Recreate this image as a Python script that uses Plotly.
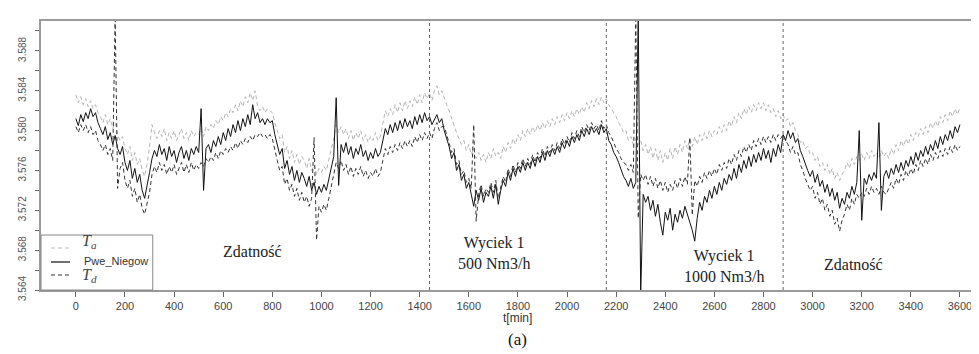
import plotly.graph_objects as go

# time axis [min], sampled every 10 min
t = list(range(0, 3601, 10))

# Pwe_Niegow (measured) values
pwe = [
 3.5812,3.5805,3.5816,3.5809,3.5818,3.5812,3.5822,3.5814,3.5818,3.5808,
 3.5802,3.5796,3.5804,3.5791,3.5798,3.5786,3.5795,3.5782,3.5776,3.5784,
 3.5768,3.5760,3.5770,3.5752,3.5762,3.5748,3.5756,3.5740,3.5732,3.5744,
 3.5758,3.5772,3.5780,3.5774,3.5786,3.5776,3.5782,3.5770,3.5784,3.5774,
 3.5780,3.5768,3.5778,3.5784,3.5772,3.5780,3.5770,3.5782,3.5776,3.5784,
 3.5778,3.5822,3.5740,3.5782,3.5786,3.5778,3.5790,3.5784,3.5794,3.5786,
 3.5798,3.5790,3.5802,3.5794,3.5806,3.5798,3.5810,3.5800,3.5812,3.5804,
 3.5816,3.5806,3.5826,3.5812,3.5818,3.5808,3.5812,3.5806,3.5812,3.5808,
 3.5810,3.5796,3.5786,3.5776,3.5782,3.5762,3.5770,3.5756,3.5764,3.5750,
 3.5760,3.5748,3.5758,3.5752,3.5744,3.5754,3.5740,3.5748,3.5736,3.5744,
 3.5738,3.5746,3.5740,3.5752,3.5762,3.5774,3.5833,3.5745,3.5786,3.5778,
 3.5788,3.5776,3.5784,3.5772,3.5782,3.5776,3.5786,3.5774,3.5780,3.5770,
 3.5778,3.5772,3.5782,3.5774,3.5778,3.5790,3.5802,3.5796,3.5806,3.5798,
 3.5808,3.5800,3.5810,3.5802,3.5812,3.5804,3.5810,3.5802,3.5814,3.5806,
 3.5816,3.5808,3.5818,3.5810,3.5814,3.5806,3.5812,3.5816,3.5808,3.5812,
 3.5800,3.5792,3.5784,3.5772,3.5778,3.5760,3.5766,3.5750,3.5756,3.5742,
 3.5748,3.5736,3.5724,3.5740,3.5730,3.5742,3.5728,3.5738,3.5734,3.5744,
 3.5732,3.5746,3.5726,3.5740,3.5750,3.5744,3.5758,3.5750,3.5762,3.5754,
 3.5764,3.5758,3.5768,3.5760,3.5768,3.5762,3.5772,3.5764,3.5774,3.5768,
 3.5778,3.5770,3.5780,3.5774,3.5782,3.5776,3.5784,3.5778,3.5788,3.5782,
 3.5790,3.5784,3.5794,3.5788,3.5796,3.5790,3.5800,3.5794,3.5802,3.5796,
 3.5804,3.5798,3.5802,3.5796,3.5806,3.5798,3.5802,3.5790,3.5786,3.5778,
 3.5774,3.5768,3.5762,3.5754,3.5750,3.5744,3.5752,3.5742,3.5748,3.5915,
 3.5635,3.5736,3.5728,3.5734,3.5720,3.5730,3.5714,3.5726,3.5708,3.5695,
 3.5718,3.5710,3.5722,3.5700,3.5716,3.5708,3.5720,3.5712,3.5724,3.5716,
 3.5710,3.5700,3.5689,3.5712,3.5728,3.5720,3.5734,3.5728,3.5740,3.5732,
 3.5744,3.5736,3.5748,3.5740,3.5752,3.5746,3.5756,3.5750,3.5762,3.5752,
 3.5766,3.5758,3.5770,3.5762,3.5774,3.5764,3.5776,3.5768,3.5778,3.5770,
 3.5782,3.5772,3.5780,3.5768,3.5782,3.5774,3.5786,3.5778,3.5796,3.5790,
 3.5800,3.5792,3.5798,3.5788,3.5792,3.5780,3.5774,3.5766,3.5760,3.5754,
 3.5760,3.5748,3.5756,3.5744,3.5750,3.5738,3.5746,3.5734,3.5742,3.5730,
 3.5738,3.5722,3.5732,3.5726,3.5738,3.5732,3.5744,3.5736,3.5748,3.5800,
 3.5710,3.5752,3.5746,3.5756,3.5750,3.5758,3.5752,3.5808,3.5720,3.5754,
 3.5760,3.5752,3.5762,3.5756,3.5766,3.5758,3.5768,3.5760,3.5770,3.5764,
 3.5774,3.5766,3.5778,3.5770,3.5780,3.5774,3.5784,3.5776,3.5786,3.5780,
 3.5790,3.5782,3.5794,3.5786,3.5796,3.5790,3.5800,3.5792,3.5804,3.5798,
 3.5806,
]

# T_a (upper) values
ta = [
 3.5836,3.5828,3.5834,3.5826,3.5832,3.5824,3.5830,3.5822,3.5826,3.5818,
 3.5814,3.5808,3.5816,3.5806,3.5812,3.5802,3.5808,3.5796,3.5790,3.5794,
 3.5782,3.5776,3.5784,3.5770,3.5778,3.5766,3.5772,3.5760,3.5754,3.5766,
 3.5784,3.5806,3.5798,3.5792,3.5800,3.5794,3.5802,3.5790,3.5798,3.5792,
 3.5800,3.5790,3.5796,3.5802,3.5792,3.5798,3.5790,3.5800,3.5794,3.5798,
 3.5796,3.5802,3.5794,3.5804,3.5800,3.5806,3.5802,3.5810,3.5806,3.5814,
 3.5810,3.5818,3.5814,3.5822,3.5818,3.5826,3.5820,3.5830,3.5824,3.5834,
 3.5828,3.5838,3.5830,3.5840,3.5824,3.5820,3.5824,3.5818,3.5822,3.5820,
 3.5818,3.5808,3.5800,3.5792,3.5796,3.5778,3.5784,3.5772,3.5780,3.5768,
 3.5776,3.5766,3.5774,3.5770,3.5762,3.5772,3.5760,3.5766,3.5756,3.5762,
 3.5758,3.5764,3.5760,3.5770,3.5780,3.5792,3.5806,3.5798,3.5804,3.5796,
 3.5802,3.5792,3.5800,3.5790,3.5798,3.5792,3.5800,3.5790,3.5796,3.5788,
 3.5794,3.5790,3.5798,3.5790,3.5794,3.5806,3.5820,3.5814,3.5822,3.5816,
 3.5826,3.5818,3.5828,3.5820,3.5830,3.5822,3.5830,3.5824,3.5834,3.5826,
 3.5836,3.5828,3.5838,3.5832,3.5838,3.5830,3.5840,3.5845,3.5836,3.5840,
 3.5832,3.5826,3.5820,3.5812,3.5806,3.5798,3.5792,3.5786,3.5790,3.5780,
 3.5786,3.5776,3.5782,3.5772,3.5778,3.5770,3.5776,3.5768,3.5778,3.5772,
 3.5782,3.5774,3.5778,3.5772,3.5784,3.5778,3.5788,3.5782,3.5792,3.5786,
 3.5796,3.5790,3.5800,3.5794,3.5802,3.5796,3.5804,3.5798,3.5806,3.5800,
 3.5808,3.5802,3.5810,3.5804,3.5812,3.5806,3.5814,3.5808,3.5816,3.5810,
 3.5818,3.5812,3.5820,3.5814,3.5822,3.5816,3.5824,3.5818,3.5828,3.5822,
 3.5830,3.5824,3.5832,3.5826,3.5834,3.5828,3.5832,3.5826,3.5822,3.5818,
 3.5814,3.5808,3.5804,3.5798,3.5800,3.5790,3.5794,3.5786,3.5792,3.5786,
 3.5790,3.5780,3.5786,3.5776,3.5784,3.5772,3.5782,3.5770,3.5780,3.5768,
 3.5778,3.5770,3.5782,3.5772,3.5784,3.5776,3.5786,3.5778,3.5790,3.5782,
 3.5792,3.5784,3.5794,3.5786,3.5796,3.5790,3.5798,3.5792,3.5800,3.5794,
 3.5800,3.5796,3.5804,3.5798,3.5806,3.5800,3.5810,3.5804,3.5814,3.5808,
 3.5818,3.5812,3.5822,3.5816,3.5824,3.5818,3.5826,3.5820,3.5828,3.5822,
 3.5828,3.5820,3.5826,3.5818,3.5822,3.5814,3.5820,3.5812,3.5816,3.5810,
 3.5812,3.5804,3.5808,3.5800,3.5796,3.5788,3.5790,3.5782,3.5784,3.5776,
 3.5778,3.5770,3.5774,3.5764,3.5768,3.5760,3.5766,3.5756,3.5762,3.5752,
 3.5758,3.5750,3.5756,3.5760,3.5768,3.5762,3.5772,3.5766,3.5774,3.5770,
 3.5776,3.5770,3.5778,3.5772,3.5780,3.5774,3.5778,3.5772,3.5780,3.5774,
 3.5778,3.5772,3.5782,3.5776,3.5786,3.5780,3.5790,3.5784,3.5792,3.5786,
 3.5796,3.5790,3.5798,3.5794,3.5802,3.5796,3.5804,3.5798,3.5808,3.5802,
 3.5810,3.5804,3.5814,3.5808,3.5816,3.5810,3.5820,3.5814,3.5822,3.5816,
 3.5824,
]

# T_d (lower) values
td = [
 3.5804,3.5798,3.5806,3.5800,3.5806,3.5798,3.5804,3.5796,3.5800,3.5790,
 3.5786,3.5780,3.5786,3.5776,3.5782,3.5770,3.5915,3.5742,3.5762,3.5768,
 3.5750,3.5742,3.5750,3.5734,3.5742,3.5728,3.5736,3.5722,3.5716,3.5726,
 3.5738,3.5756,3.5764,3.5758,3.5768,3.5760,3.5766,3.5756,3.5764,3.5758,
 3.5766,3.5756,3.5762,3.5768,3.5758,3.5766,3.5758,3.5768,3.5760,3.5766,
 3.5762,3.5768,3.5764,3.5772,3.5768,3.5774,3.5770,3.5778,3.5772,3.5780,
 3.5776,3.5782,3.5778,3.5784,3.5780,3.5788,3.5782,3.5790,3.5786,3.5792,
 3.5788,3.5794,3.5790,3.5796,3.5794,3.5798,3.5794,3.5796,3.5792,3.5796,
 3.5792,3.5780,3.5770,3.5760,3.5764,3.5746,3.5752,3.5740,3.5746,3.5734,
 3.5742,3.5730,3.5738,3.5728,3.5734,3.5724,3.5732,3.5793,3.5690,3.5724,
 3.5718,3.5726,3.5720,3.5732,3.5744,3.5756,3.5768,3.5762,3.5770,3.5760,
 3.5766,3.5756,3.5764,3.5754,3.5762,3.5756,3.5764,3.5754,3.5760,3.5752,
 3.5758,3.5754,3.5762,3.5754,3.5758,3.5770,3.5782,3.5776,3.5784,3.5778,
 3.5786,3.5780,3.5788,3.5782,3.5790,3.5784,3.5790,3.5784,3.5794,3.5788,
 3.5796,3.5790,3.5798,3.5792,3.5798,3.5792,3.5802,3.5808,3.5800,3.5804,
 3.5804,3.5796,3.5788,3.5778,3.5782,3.5766,3.5770,3.5756,3.5760,3.5748,
 3.5752,3.5742,3.5806,3.5709,3.5736,3.5746,3.5734,3.5742,3.5738,3.5748,
 3.5738,3.5750,3.5732,3.5744,3.5754,3.5748,3.5762,3.5754,3.5766,3.5758,
 3.5768,3.5762,3.5772,3.5764,3.5772,3.5766,3.5776,3.5768,3.5778,3.5772,
 3.5782,3.5774,3.5784,3.5778,3.5786,3.5780,3.5788,3.5782,3.5792,3.5786,
 3.5794,3.5788,3.5798,3.5792,3.5800,3.5794,3.5804,3.5798,3.5806,3.5800,
 3.5808,3.5802,3.5806,3.5800,3.5810,3.5802,3.5806,3.5798,3.5794,3.5788,
 3.5782,3.5778,3.5772,3.5768,3.5766,3.5760,3.5766,3.5758,3.5915,3.5712,
 3.5756,3.5750,3.5756,3.5746,3.5754,3.5744,3.5752,3.5742,3.5750,3.5740,
 3.5748,3.5738,3.5746,3.5740,3.5750,3.5742,3.5752,3.5744,3.5754,3.5746,
 3.5793,3.5715,3.5750,3.5744,3.5754,3.5748,3.5758,3.5752,3.5760,3.5754,
 3.5762,3.5756,3.5766,3.5760,3.5768,3.5762,3.5772,3.5766,3.5776,3.5770,
 3.5780,3.5774,3.5784,3.5778,3.5786,3.5780,3.5790,3.5784,3.5792,3.5786,
 3.5794,3.5788,3.5794,3.5788,3.5796,3.5790,3.5796,3.5792,3.5796,3.5790,
 3.5786,3.5778,3.5784,3.5776,3.5778,3.5766,3.5760,3.5752,3.5746,3.5740,
 3.5744,3.5732,3.5738,3.5726,3.5732,3.5720,3.5726,3.5714,3.5720,3.5706,
 3.5712,3.5699,3.5710,3.5716,3.5726,3.5720,3.5732,3.5726,3.5736,3.5732,
 3.5738,3.5734,3.5742,3.5736,3.5744,3.5738,3.5742,3.5736,3.5744,3.5738,
 3.5736,3.5742,3.5748,3.5742,3.5752,3.5746,3.5756,3.5750,3.5760,3.5754,
 3.5762,3.5756,3.5766,3.5760,3.5770,3.5764,3.5772,3.5766,3.5776,3.5770,
 3.5778,3.5772,3.5780,3.5774,3.5782,3.5776,3.5784,3.5778,3.5786,3.5780,
 3.5784,
]

# segment boundaries [min] and region labels
boundaries = [1440, 2160, 2880]
region_labels = ["Zdatność", "Wyciek 1<br>500 Nm3/h", "Wyciek 1<br>1000 Nm3/h", "Zdatność"]
region_x = [719, 1702, 2641, 3165]
region_y = [3.5679, 3.56776, 3.56641, 3.56661]

x_ticks = list(range(0, 3601, 200))
y_ticks = [round(3.564 + 0.002 * i, 3) for i in range(14)]
y_ticktext = [f"{v:.3f}" if i % 2 == 0 else "" for i, v in enumerate(y_ticks)]

fig = go.Figure()
fig.add_trace(go.Scatter(x=t, y=ta, mode="lines", name="Ta",
                         line=dict(color="#b4b4b4", width=1, dash="4px,3px")))
fig.add_trace(go.Scatter(x=t, y=pwe, mode="lines", name="Pwe_Niegow",
                         line=dict(color="#111111", width=1)))
fig.add_trace(go.Scatter(x=t, y=td, mode="lines", name="Td",
                         line=dict(color="#333333", width=1, dash="4px,3px")))

shapes = []
for b in boundaries:
    shapes.append(dict(type="line", xref="x", yref="paper", x0=b, x1=b, y0=0, y1=1,
                       line=dict(color="#666666", width=1, dash="dot")))

# legend box and samples (paper coordinates)
PW, PH = 946.0, 269.0
def px(xp):
    return (xp - 33) / PW
def py(yp):
    return (282 - yp) / PH

shapes.append(dict(type="rect", xref="paper", yref="paper", x0=0, x1=px(145), y0=0, y1=py(227),
                   line=dict(color="#888888", width=1), fillcolor="white", layer="above"))
shapes.append(dict(type="line", xref="paper", yref="paper", x0=px(43), x1=px(62), y0=py(240), y1=py(240),
                   line=dict(color="#b4b4b4", width=1.2, dash="4px,3px"), layer="above"))
shapes.append(dict(type="line", xref="paper", yref="paper", x0=px(43), x1=px(62), y0=py(254), y1=py(254),
                   line=dict(color="#111111", width=1.2), layer="above"))
shapes.append(dict(type="line", xref="paper", yref="paper", x0=px(43), x1=px(62), y0=py(267), y1=py(267),
                   line=dict(color="#333333", width=1.2, dash="4px,3px"), layer="above"))

annotations = []
for lab, xx, yy in zip(region_labels, region_x, region_y):
    annotations.append(dict(text=lab, x=xx, y=yy, xref="x", yref="y", showarrow=False,
                            font=dict(family="Liberation Serif", size=16, color="#222222")))
annotations += [
    dict(text="<i>T<sub>a</sub></i>", x=px(72), y=py(245), xref="paper", yref="paper",
         xanchor="left", yanchor="bottom", showarrow=False,
         font=dict(family="Liberation Serif", size=16, color="#444444")),
    dict(text="Pwe_Niegow", x=px(74), y=py(253), xref="paper", yref="paper",
         xanchor="left", yanchor="middle", showarrow=False,
         font=dict(family="Liberation Sans", size=11, color="#333333")),
    dict(text="<i>T<sub>d</sub></i>", x=px(72), y=py(256), xref="paper", yref="paper",
         xanchor="left", yanchor="top", showarrow=False,
         font=dict(family="Liberation Serif", size=16, color="#444444")),
    dict(text="t[min]", x=1800, y=py(319), xref="x", yref="paper", showarrow=False,
         font=dict(family="Liberation Sans", size=12, color="#333333")),
    dict(text="(a)", x=1800, y=py(343), xref="x", yref="paper", showarrow=False,
         font=dict(family="Liberation Serif", size=17, color="#111111")),
]

fig.update_layout(
    width=979, height=354,
    margin=dict(l=33, r=0, t=13, b=72),
    paper_bgcolor="white", plot_bgcolor="white",
    showlegend=False,
    shapes=shapes, annotations=annotations,
    xaxis=dict(range=[-142, 3702], tickvals=x_ticks, showgrid=False, zeroline=False,
               showline=True, linecolor="#9a9a9a", linewidth=1.5, mirror=True,
               ticks="outside", ticklen=5, tickcolor="#666666",
               tickfont=dict(family="Liberation Sans", size=11, color="#444444")),
    yaxis=dict(range=[3.564, 3.591], tickvals=y_ticks, ticktext=y_ticktext,
               showgrid=False, zeroline=False, showline=True, linecolor="#9a9a9a",
               linewidth=1.5, mirror=True, ticks="outside", ticklen=4, tickcolor="#666666",
               tickangle=-90, ticklabelstandoff=5,
               tickfont=dict(family="Liberation Sans", size=10, color="#555555")),
)

fig.write_html("out.html")
